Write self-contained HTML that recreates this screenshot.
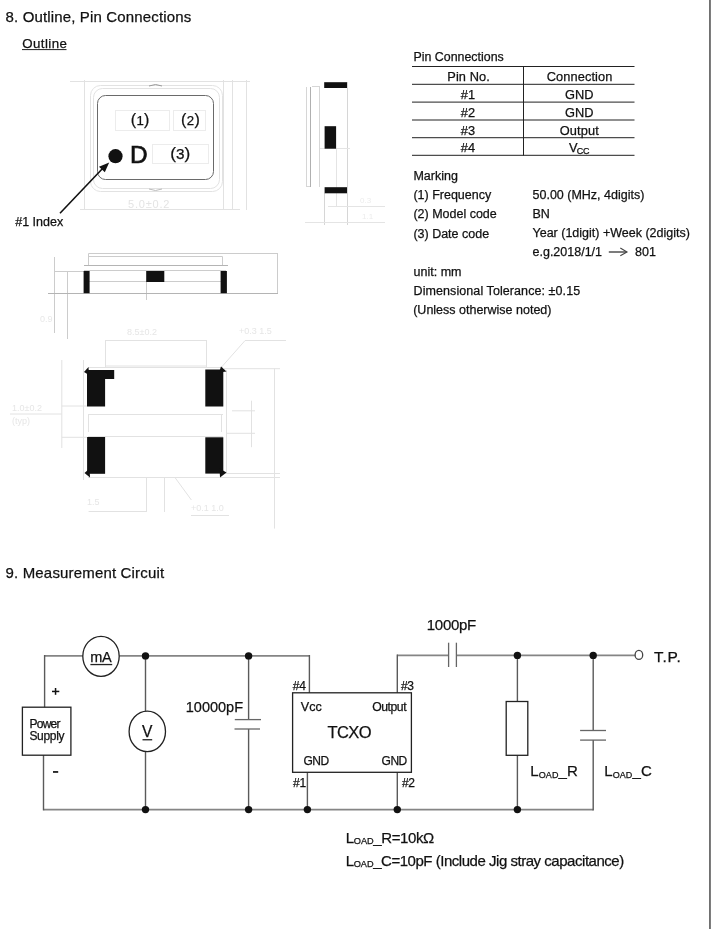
<!DOCTYPE html>
<html><head><meta charset="utf-8">
<style>
html,body{margin:0;padding:0;background:#fff;}
body{width:712px;height:929px;overflow:hidden;position:relative;}
svg{position:absolute;left:0;top:0;will-change:transform;}
text{font-family:"Liberation Sans",sans-serif;fill:#111;stroke:#111;stroke-width:0.25px;}
</style></head><body>
<svg width="712" height="929" viewBox="0 0 712 929">
<!-- right border -->
<rect x="709" y="0" width="1.9" height="929" fill="#707070"/>

<!-- Section 8 -->
<text x="5.5" y="22.3" font-size="15" letter-spacing="0.15">8. Outline, Pin Connections</text>
<text x="22.2" y="47.9" font-size="13.3" letter-spacing="0.45">Outline</text>
<rect x="22" y="49" width="44.5" height="1.1" fill="#333"/>

<!-- top view -->
<g fill="none" stroke="#e2e2e2" stroke-width="1">
  <rect x="90.5" y="85.5" width="132" height="106" rx="10"/>
  <rect x="93.5" y="88.5" width="126" height="100" rx="9"/>
  <line x1="223.5" y1="80" x2="223.5" y2="210"/>
  <line x1="232.5" y1="80" x2="232.5" y2="210"/>
  <line x1="246.5" y1="80" x2="246.5" y2="210"/>
  <line x1="70" y1="81.5" x2="250" y2="81.5"/>
  <line x1="80" y1="209.5" x2="240" y2="209.5"/>
  <line x1="84.5" y1="80" x2="84.5" y2="210"/>
</g>
<text x="128" y="207.5" font-size="11" letter-spacing="0.8" style="fill:#e4e4e4;stroke:none">5.0±0.2</text>
<path d="M149,86 Q155.5,83 162,86" fill="none" stroke="#999" stroke-width="1"/>
<path d="M149,189 Q155.5,192 162,189" fill="none" stroke="#bbb" stroke-width="1"/>
<rect x="97.5" y="95.5" width="116" height="84" rx="8" fill="none" stroke="#6a6a6a" stroke-width="1"/>
<g fill="none" stroke="#ececec" stroke-width="1">
  <rect x="115.5" y="110.5" width="54" height="20"/>
  <rect x="173.5" y="110.5" width="32" height="20"/>
  <rect x="152.5" y="144.5" width="56" height="19"/>
</g>
<g font-size="16">
<text x="130.8" y="124.8" letter-spacing="0.3">(<tspan font-size="13.2">1</tspan>)</text>
<text x="181.1" y="124.8" letter-spacing="0.3">(<tspan font-size="13.2">2</tspan>)</text>
<text x="170.2" y="159.4" font-size="17.3">(<tspan font-size="15.3">3</tspan>)</text>
</g>
<text x="129.9" y="163.4" font-size="24.3" style="stroke-width:0.7px">D</text>
<circle cx="115.5" cy="156.2" r="7.1" fill="#111"/>
<line x1="60" y1="213.2" x2="104" y2="167" stroke="#111" stroke-width="1.6"/>
<path d="M109.2,162.4 L99,166.8 L104.8,172.2 Z" fill="#111"/>
<text x="15.2" y="225.9" font-size="12.5">#1 Index</text>

<!-- side view (right) -->
<g stroke="#d6d6d6" stroke-width="1" fill="none">
  <line x1="306.5" y1="87" x2="306.5" y2="186.5"/>
  <line x1="319.5" y1="86" x2="319.5" y2="187"/>
  <line x1="312" y1="86.5" x2="319" y2="86.5"/>
  <line x1="306" y1="186.5" x2="311" y2="186.5"/>
  <line x1="347.5" y1="82" x2="347.5" y2="225"/>
  <line x1="324.5" y1="193" x2="324.5" y2="225"/>
</g>
<g stroke="#e4e4e4" stroke-width="1" fill="none">
  <line x1="336.5" y1="148" x2="336.5" y2="206"/>
  <line x1="320" y1="148.5" x2="350" y2="148.5"/>
  <line x1="328" y1="206.5" x2="385" y2="206.5"/>
  <line x1="305" y1="222.5" x2="385" y2="222.5"/>
</g>
<line x1="310.5" y1="87" x2="310.5" y2="187" stroke="#b0b0b0" stroke-width="1"/>
<rect x="324.2" y="82.2" width="22.8" height="5.8" fill="#111"/>
<rect x="324.6" y="126.2" width="11.5" height="22.5" fill="#111"/>
<rect x="324.6" y="187.2" width="22.4" height="6.1" fill="#111"/>
<g fill="#ececec" font-size="8">
  <text x="360" y="203" style="fill:#ececec;stroke:none">0.3</text>
  <text x="362" y="219" style="fill:#ececec;stroke:none">1.1</text>
</g>

<!-- Pin connections table -->
<text x="413.5" y="61.1" font-size="12.4">Pin Connections</text>
<g fill="#222">
  <rect x="412" y="66" width="222.5" height="1"/>
  <rect x="412" y="83.8" width="222.5" height="1"/>
  <rect x="412" y="101.6" width="222.5" height="1"/>
  <rect x="412" y="119.5" width="222.5" height="1"/>
  <rect x="412" y="137.2" width="222.5" height="1"/>
  <rect x="412" y="154.8" width="222.5" height="1"/>
  <rect x="523" y="66" width="1" height="89.5"/>
</g>
<g font-size="12.8" letter-spacing="0.1" text-anchor="middle">
  <text x="468.6" y="80.9">Pin No.</text>
  <text x="579.6" y="80.9">Connection</text>
  <text x="468" y="98.9">#1</text>
  <text x="579.3" y="98.9">GND</text>
  <text x="468" y="116.8">#2</text>
  <text x="579.3" y="116.8">GND</text>
  <text x="468" y="134.7">#3</text>
  <text x="579.3" y="134.7">Output</text>
  <text x="468" y="151.8">#4</text>
</g>
<text x="569" y="151.6" font-size="12.8">V<tspan font-size="9" dx="-0.8" dy="2.3" letter-spacing="-0.3">CC</tspan></text>

<!-- Marking -->
<g font-size="12.5">
  <text x="413.4" y="180.2">Marking</text>
  <text x="413.4" y="199.1">(1) Frequency</text>
  <text x="532.5" y="199.1">50.00 (MHz, 4digits)</text>
  <text x="413.4" y="217.8">(2) Model code</text>
  <text x="532.5" y="217.6">BN</text>
  <text x="413.4" y="237.7">(3) Date code</text>
  <text x="532.5" y="236.9">Year (1digit) +Week (2digits)</text>
  <text x="532.5" y="256.4">e.g.2018/1/1</text>
  <text x="635" y="256.4">801</text>
  <text x="413.6" y="275.7">unit: mm</text>
  <text x="413.6" y="295.2" letter-spacing="0.08">Dimensional Tolerance: ±0.15</text>
  <text x="413.2" y="313.8">(Unless otherwise noted)</text>
</g>
<g stroke="#444" stroke-width="1.4" fill="none">
  <line x1="608.8" y1="252" x2="626.5" y2="252"/>
  <path d="M620.3,248 L627,252 L620.3,255.8" stroke-width="1.1"/>
</g>

<!-- front view -->
<g stroke="#ccc" stroke-width="1" fill="none">
  <line x1="88.5" y1="253.5" x2="278" y2="253.5"/>
  <line x1="88.5" y1="256.5" x2="222.5" y2="256.5"/>
  <line x1="88.5" y1="253.5" x2="88.5" y2="265"/>
  <line x1="222.5" y1="256.5" x2="222.5" y2="265"/>
  <line x1="84" y1="270.5" x2="226" y2="270.5"/>
  <line x1="89" y1="281.5" x2="221" y2="281.5"/>
  <line x1="54.5" y1="257" x2="54.5" y2="333"/>
  <line x1="67.5" y1="272" x2="67.5" y2="339"/>
  <line x1="54" y1="271.5" x2="84" y2="271.5"/>
  <line x1="277.5" y1="253" x2="277.5" y2="293"/>
  <line x1="146.5" y1="281" x2="146.5" y2="300"/>
</g>
<g stroke="#b4b4b4" stroke-width="1">
  <line x1="84" y1="265.5" x2="228" y2="265.5"/>
  <line x1="48" y1="293.5" x2="278" y2="293.5"/>
</g>
<text x="40" y="322" font-size="9" style="fill:#e8e8e8;stroke:none">0.9</text>
<rect x="83.6" y="271" width="6" height="22.2" fill="#111"/>
<rect x="146.2" y="271" width="18.1" height="11" fill="#111"/>
<rect x="220.6" y="271" width="6.3" height="22.2" fill="#111"/>

<!-- bottom view -->
<g stroke="#e2e2e2" stroke-width="1" fill="none">
  <line x1="105" y1="340.5" x2="207" y2="340.5"/>
  <line x1="105.5" y1="340" x2="105.5" y2="367"/>
  <line x1="206.5" y1="340" x2="206.5" y2="367"/>
  <line x1="105" y1="366" x2="207" y2="366"/>
  <line x1="88" y1="367.5" x2="223" y2="367.5"/>
  <line x1="245" y1="340.5" x2="286" y2="340.5"/>
  <line x1="221.6" y1="367" x2="245" y2="340.6"/>
  <line x1="224" y1="368.7" x2="280" y2="368.7"/>
  <line x1="274.5" y1="368.7" x2="274.5" y2="528.6"/>
  <line x1="224" y1="473.5" x2="280" y2="473.5"/>
  <line x1="200" y1="477.5" x2="280" y2="477.5"/>
  <line x1="88" y1="477.5" x2="223" y2="477.5"/>
  <line x1="226.5" y1="370" x2="226.5" y2="474"/>
  <line x1="251.5" y1="400.7" x2="251.5" y2="447.2"/>
  <line x1="232" y1="410.8" x2="255" y2="410.8"/>
  <line x1="226" y1="433.3" x2="255" y2="433.3"/>
  <line x1="61.8" y1="360" x2="61.8" y2="448"/>
  <line x1="61.8" y1="406" x2="87" y2="406"/>
  <line x1="10" y1="414" x2="61.8" y2="414"/>
  <line x1="61.8" y1="437.3" x2="87" y2="437.3"/>
  <line x1="83.5" y1="360" x2="83.5" y2="480"/>
  <line x1="146.5" y1="477" x2="146.5" y2="512"/>
  <line x1="164.5" y1="477" x2="164.5" y2="512"/>
  <line x1="88.6" y1="511.5" x2="146" y2="511.5"/>
  <line x1="191" y1="515.5" x2="229" y2="515.5"/>
  <line x1="174.6" y1="477" x2="191.4" y2="500"/>
  <line x1="88" y1="414.5" x2="223" y2="414.5"/>
  <line x1="88" y1="436.5" x2="223" y2="436.5"/>
  <line x1="88.5" y1="414" x2="88.5" y2="432"/>
  <line x1="221.5" y1="414" x2="221.5" y2="432"/>
</g>
<g font-size="9" style="fill:#e6e6e6;stroke:none">
  <text x="127" y="335" style="fill:#e6e6e6;stroke:none">8.5±0.2</text>
  <text x="239" y="334" style="fill:#e6e6e6;stroke:none">+0.3 1.5</text>
  <text x="12" y="411" style="fill:#e6e6e6;stroke:none">1.0±0.2</text>
  <text x="12" y="424" style="fill:#e6e6e6;stroke:none">(typ)</text>
  <text x="191" y="511" style="fill:#e6e6e6;stroke:none">+0.1 1.0</text>
  <text x="87" y="505" style="fill:#e6e6e6;stroke:none">1.5</text>
</g>
<path d="M87,370 H114.2 V379 H105.1 V406.5 H87 Z" fill="#111"/>
<path d="M84,372 L88.5,367 L89,375 Z" fill="#111"/>
<rect x="205.3" y="369.5" width="18" height="37" fill="#111"/>
<path d="M221,366.5 L226.5,371.5 L219,372.5 Z" fill="#111"/>
<rect x="87.1" y="437" width="18" height="36.8" fill="#111"/>
<path d="M84.5,473 L89.5,468.5 L90,477.5 Z" fill="#111"/>
<rect x="205.3" y="437.3" width="18" height="36.3" fill="#111"/>
<path d="M226.5,472.5 L219.5,468.5 L220,477.5 Z" fill="#111"/>

<!-- Section 9 -->
<text x="5.5" y="577.8" font-size="15" letter-spacing="0.17">9. Measurement Circuit</text>

<!-- circuit wires -->
<g stroke="#858585" stroke-width="1.8" fill="none">
  <path d="M44.6,655.9 H82.8"/>
  <path d="M119.3,655.9 H309.4"/>
  <path d="M43.5,809.6 H517.4"/>
  <path d="M397.3,655.4 H448.6"/>
  <path d="M456.4,655.4 H635.1"/>
  <path d="M517.4,809.6 H593.2"/>
</g>
<g stroke="#5a5a5a" stroke-width="1.4" fill="none">
  <path d="M44.6,707.2 V655"/>
  <path d="M43.5,755.2 V810.4"/>
  <path d="M309.4,655 V692.8"/>
  <path d="M145.5,655.9 V711.2"/>
  <path d="M145.5,751.6 V809.6"/>
  <path d="M248.6,655.9 V719.6"/>
  <path d="M248.6,729 V809.6"/>
  <path d="M307.4,772.6 V809.6"/>
  <path d="M397.3,772.6 V809.6"/>
  <path d="M397.3,692.8 V654.6"/>
  <path d="M517.4,655.4 V701.5"/>
  <path d="M517.4,755.3 V809.6"/>
  <path d="M593.2,655.4 V730.5"/>
  <path d="M593.2,740.1 V810.4"/>
</g>
<g stroke="#666" stroke-width="1.3" fill="none">
  <path d="M234.8,719.6 H261"/>
  <path d="M234.5,729 H260"/>
  <path d="M448.6,642.7 V667"/>
  <path d="M456.4,642.7 V667"/>
  <path d="M580.1,730.5 H606"/>
  <path d="M580.1,740.1 H606"/>
</g>
<g stroke="#222" stroke-width="1.3" fill="none">
  <rect x="22.4" y="707.2" width="48.5" height="48"/>
  <rect x="292.6" y="692.8" width="118.8" height="79.5"/>
  <rect x="506.2" y="701.5" width="21.6" height="53.8"/>
  <ellipse cx="101" cy="656.3" rx="18.2" ry="20"/>
  <ellipse cx="147.3" cy="731.4" rx="18.2" ry="20.3"/>
  <ellipse cx="638.9" cy="654.9" rx="3.8" ry="4.5" stroke="#444"/>
</g>
<g fill="#111">
  <circle cx="145.5" cy="655.9" r="3.7"/>
  <circle cx="248.6" cy="655.9" r="3.7"/>
  <circle cx="517.4" cy="655.4" r="3.7"/>
  <circle cx="593.2" cy="655.4" r="3.7"/>
  <circle cx="145.5" cy="809.6" r="3.7"/>
  <circle cx="248.6" cy="809.6" r="3.7"/>
  <circle cx="307.4" cy="809.6" r="3.7"/>
  <circle cx="397.3" cy="809.6" r="3.7"/>
  <circle cx="517.4" cy="809.6" r="3.7"/>
</g>

<text x="90.2" y="662.3" font-size="14.5" letter-spacing="-0.3">mA</text>
<rect x="90.4" y="663.9" width="21.8" height="1.3" fill="#222"/>
<text x="141.9" y="736.9" font-size="15.6" letter-spacing="0">V</text>
<rect x="142.5" y="739.1" width="9.7" height="1.3" fill="#222"/>
<rect x="52" y="690.7" width="7.3" height="1.5" fill="#111"/><rect x="54.8" y="688" width="1.5" height="6.8" fill="#111"/>
<rect x="53" y="771.1" width="5.2" height="1.7" fill="#111"/>
<text x="29.4" y="728.1" font-size="12" letter-spacing="-0.72">Power</text>
<text x="29.4" y="739.8" font-size="12" letter-spacing="-0.3">Supply</text>

<text x="185.8" y="711.6" font-size="14.5" letter-spacing="0">10000pF</text>
<text x="426.8" y="630" font-size="15" letter-spacing="-0.3">1000pF</text>
<text x="654" y="661.9" font-size="15.5" letter-spacing="0.7">T.P.</text>

<g font-size="12" letter-spacing="-0.3">
  <text x="292.8" y="689.6">#4</text>
  <text x="400.9" y="689.6">#3</text>
  <text x="293.1" y="786.7">#1</text>
  <text x="402" y="786.7">#2</text>
</g>
<text x="300.8" y="710.8" font-size="12.6" letter-spacing="0">Vcc</text>
<text x="372.2" y="710.7" font-size="12.2" letter-spacing="-0.45">Output</text>
<text x="303.4" y="764.7" font-size="12" letter-spacing="-0.5">GND</text>
<text x="381.6" y="764.7" font-size="12" letter-spacing="-0.5">GND</text>
<text x="327.5" y="737.7" font-size="16.5" letter-spacing="-0.6">TCXO</text>

<g font-size="15" letter-spacing="0.1">
<text x="530.3" y="776.2">L<tspan font-size="9" dy="1.6">OAD</tspan><tspan dy="-1.6">_R</tspan></text>
<text x="604.2" y="776.2">L<tspan font-size="9" dy="1.6">OAD</tspan><tspan dy="-1.6">_C</tspan></text>
</g>
<g font-size="15" letter-spacing="-0.4">
<text x="345.8" y="842.9">L<tspan font-size="9.2" dy="1.4" letter-spacing="0">OAD</tspan><tspan dy="-1.4" dx="-0.4">_R=10kΩ</tspan></text>
<text x="345.8" y="865.6" letter-spacing="-0.47">L<tspan font-size="9.2" dy="1.4" letter-spacing="0">OAD</tspan><tspan dy="-1.4" dx="-0.4">_C=10pF (Include Jig stray capacitance)</tspan></text>
</g>
</svg>
</body></html>
